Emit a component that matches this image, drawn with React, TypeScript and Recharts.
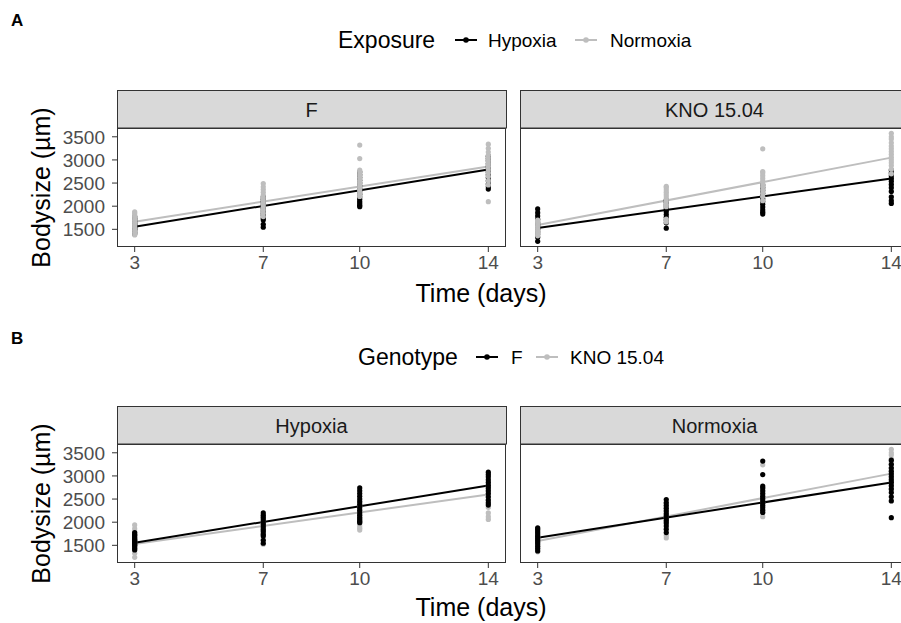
import React from "react";
import { ComposedChart, Scatter, Line, XAxis, YAxis } from "recharts";

const FONT = "'Liberation Sans', Arial, Helvetica, sans-serif";

// Sampling days and tick labels
const DAYS = [3, 7, 10, 14];
const X_TICKS = [3, 7, 10, 14];
const Y_TICKS = [1500, 2000, 2500, 3000, 3500];
const FIT_DAYS = [3, 14];

// Body size (µm) per day, one inner list per day in DAYS
const F_HYPOXIA = [
  [1400, 1430, 1470, 1500, 1520, 1540, 1560, 1580, 1600, 1620, 1650, 1680, 1710, 1740, 1775],
  [1545, 1610, 1700, 1740, 1800, 1850, 1900, 1950, 2000, 2050, 2100, 2150, 2200],
  [1990, 2020, 2060, 2100, 2150, 2200, 2260, 2320, 2380, 2440, 2500, 2560, 2620, 2680, 2740],
  [2370, 2420, 2480, 2550, 2620, 2680, 2740, 2800, 2860, 2920, 2980, 3030, 3080],
];
const F_NORMOXIA = [
  [1380, 1430, 1480, 1530, 1570, 1610, 1650, 1690, 1730, 1770, 1810, 1850, 1880],
  [1775, 1850, 1920, 1980, 2030, 2080, 2130, 2180, 2240, 2300, 2360, 2420, 2490],
  [2210, 2260, 2310, 2360, 2410, 2460, 2510, 2560, 2620, 2680, 2740, 2780, 3030, 3320],
  [2097, 2460, 2550, 2640, 2720, 2790, 2860, 2920, 2980, 3040, 3100, 3170, 3250, 3340],
];
const KNO_HYPOXIA = [
  [1240, 1330, 1400, 1450, 1500, 1530, 1560, 1600, 1650, 1720, 1790, 1860, 1940],
  [1525, 1640, 1700, 1760, 1820, 1880, 1930, 1980, 2030, 2080, 2130],
  [1830, 1870, 1920, 1980, 2040, 2100, 2160, 2220, 2280, 2340, 2400, 2460],
  [2060, 2120, 2200, 2320, 2400, 2470, 2540, 2600, 2660, 2720, 2780],
];
const KNO_NORMOXIA = [
  [1360, 1400, 1440, 1480, 1520, 1560, 1600, 1640, 1680, 1700],
  [1660, 1720, 1990, 2040, 2100, 2150, 2200, 2250, 2300, 2350, 2400, 2430],
  [2120, 2210, 2280, 2350, 2420, 2480, 2540, 2600, 2660, 2720, 2750, 3240],
  [2700, 2800, 2880, 2940, 3000, 3060, 3120, 3180, 3240, 3300, 3370, 3450, 3500, 3575],
];

// Fitted regression values at FIT_DAYS
const F_HYPOXIA_FIT = [1555, 2795];
const F_NORMOXIA_FIT = [1665, 2860];
const KNO_HYPOXIA_FIT = [1530, 2600];
const KNO_NORMOXIA_FIT = [1593, 3050];

const BLACK = "#000000";
const GREY = "#BEBEBE";

type Series = { name: string; color: string; values: number[][]; fit: number[] };

const toPoints = (groups: number[][]) =>
  groups.flatMap((vals, i) => vals.map((v) => ({ day: DAYS[i], size: v })));
const toFit = (vals: number[]) => FIT_DAYS.map((d, i) => ({ day: d, size: vals[i] }));

const PLOT_W = 389;
const Y_AXIS_W = 117;

function Panel({ left, top, plotH, showY, series }: { left: number; top: number; plotH: number; showY: boolean; series: Series[] }) {
  const width = (showY ? Y_AXIS_W : 0) + PLOT_W + 4;
  return (
    <div style={{ position: "absolute", left, top }}>
      <ComposedChart width={width} height={plotH + 40} margin={{ top: 0, right: 4, bottom: 0, left: 0 }}>
        <XAxis
          type="number"
          dataKey="day"
          domain={[2.45, 14.55]}
          ticks={X_TICKS}
          interval={0}
          allowDataOverflow
          axisLine={false}
          tickLine={{ stroke: "#333333", strokeWidth: 1 }}
          tickSize={5}
          tickMargin={4}
          height={40}
          tick={{ fill: "#4D4D4D", fontSize: 19, fontFamily: FONT }}
        />
        <YAxis
          type="number"
          dataKey="size"
          domain={[1118, 3690]}
          ticks={Y_TICKS}
          interval={0}
          allowDataOverflow
          hide={!showY}
          width={Y_AXIS_W}
          axisLine={false}
          tickLine={{ stroke: "#333333", strokeWidth: 1 }}
          tickSize={5}
          tickMargin={7}
          tick={{ fill: "#4D4D4D", fontSize: 19, fontFamily: FONT }}
        />
        {series.map((s) => (
          <Scatter
            key={"p" + s.name}
            name={s.name}
            data={toPoints(s.values)}
            isAnimationActive={false}
            shape={(p: any) => <circle cx={p.cx} cy={p.cy} r={2.6} fill={s.color} />}
          />
        ))}
        {series.map((s) => (
          <Line
            key={"l" + s.name}
            data={toFit(s.fit)}
            dataKey="size"
            type="linear"
            stroke={s.color}
            strokeWidth={2}
            dot={false}
            isAnimationActive={false}
          />
        ))}
      </ComposedChart>
    </div>
  );
}

const ROW_A_TOP = 128;
const ROW_B_TOP = 444;
const PLOT_H = 119;

function Strip({ x, y, label }: { x: number; y: number; label: string }) {
  return (
    <g>
      <rect x={x + 0.5} y={y + 0.5} width={PLOT_W} height={37.5} fill="#D9D9D9" stroke="#333333" strokeWidth={1} />
      <text x={x + PLOT_W / 2} y={y + 26.5} textAnchor="middle" fontSize={20} fill="#1A1A1A" fontFamily={FONT}>
        {label}
      </text>
    </g>
  );
}

function LegendKey({ x, y, color }: { x: number; y: number; color: string }) {
  return (
    <g>
      <line x1={x} y1={y} x2={x + 22} y2={y} stroke={color} strokeWidth={2} />
      <circle cx={x + 11} cy={y} r={2.8} fill={color} />
    </g>
  );
}

export default function App() {
  const rowA = [
    { left: 0, showY: true, label: "F", series: [
      { name: "Hypoxia", color: BLACK, values: F_HYPOXIA, fit: F_HYPOXIA_FIT },
      { name: "Normoxia", color: GREY, values: F_NORMOXIA, fit: F_NORMOXIA_FIT },
    ] },
    { left: 520, showY: false, label: "KNO 15.04", series: [
      { name: "Hypoxia", color: BLACK, values: KNO_HYPOXIA, fit: KNO_HYPOXIA_FIT },
      { name: "Normoxia", color: GREY, values: KNO_NORMOXIA, fit: KNO_NORMOXIA_FIT },
    ] },
  ];
  const rowB = [
    { left: 0, showY: true, label: "Hypoxia", series: [
      { name: "KNO 15.04", color: GREY, values: KNO_HYPOXIA, fit: KNO_HYPOXIA_FIT },
      { name: "F", color: BLACK, values: F_HYPOXIA, fit: F_HYPOXIA_FIT },
    ] },
    { left: 520, showY: false, label: "Normoxia", series: [
      { name: "KNO 15.04", color: GREY, values: KNO_NORMOXIA, fit: KNO_NORMOXIA_FIT },
      { name: "F", color: BLACK, values: F_NORMOXIA, fit: F_NORMOXIA_FIT },
    ] },
  ];

  return (
    <div style={{ position: "absolute", left: 0, top: 0, width: 901, height: 623, overflow: "hidden", background: "#FFFFFF", fontFamily: FONT }}>
      {rowA.map((p) => (
        <Panel key={"A" + p.label} left={p.left} top={ROW_A_TOP} plotH={PLOT_H} showY={p.showY} series={p.series} />
      ))}
      {rowB.map((p) => (
        <Panel key={"B" + p.label} left={p.left} top={ROW_B_TOP} plotH={PLOT_H} showY={p.showY} series={p.series} />
      ))}
      <svg width={901} height={623} style={{ position: "absolute", left: 0, top: 0, pointerEvents: "none" }}>
        {/* panel borders */}
        {[117, 520].map((x) => (
          <g key={"b" + x}>
            <rect x={x + 0.5} y={ROW_A_TOP + 0.5} width={PLOT_W - 1} height={PLOT_H - 1} fill="none" stroke="#333333" strokeWidth={1} />
            <rect x={x + 0.5} y={ROW_B_TOP + 0.5} width={PLOT_W - 1} height={PLOT_H - 1} fill="none" stroke="#333333" strokeWidth={1} />
          </g>
        ))}
        {/* strips */}
        <Strip x={117} y={90} label={rowA[0].label} />
        <Strip x={520} y={90} label={rowA[1].label} />
        <Strip x={117} y={406} label={rowB[0].label} />
        <Strip x={520} y={406} label={rowB[1].label} />

        {/* tags */}
        <text x={11} y={26} fontSize={17} fontWeight="bold" fontFamily={FONT} fill="#000">A</text>
        <text x={11} y={344} fontSize={17} fontWeight="bold" fontFamily={FONT} fill="#000">B</text>

        {/* legend A */}
        <text x={338} y={48} fontSize={23} fontFamily={FONT} fill="#000">Exposure</text>
        <LegendKey x={455} y={40} color={BLACK} />
        <text x={488} y={47} fontSize={19} fontFamily={FONT} fill="#000">Hypoxia</text>
        <LegendKey x={575} y={40} color={GREY} />
        <text x={610} y={47} fontSize={19} fontFamily={FONT} fill="#000">Normoxia</text>

        {/* legend B */}
        <text x={358} y={365} fontSize={23} fontFamily={FONT} fill="#000">Genotype</text>
        <LegendKey x={476} y={357} color={BLACK} />
        <text x={511} y={364} fontSize={19} fontFamily={FONT} fill="#000">F</text>
        <LegendKey x={536} y={357} color={GREY} />
        <text x={570} y={364} fontSize={19} fontFamily={FONT} fill="#000">KNO 15.04</text>

        {/* axis titles */}
        <text transform="translate(50,187.5) rotate(-90)" textAnchor="middle" fontSize={25} fontFamily={FONT} fill="#000">Bodysize (µm)</text>
        <text transform="translate(50,503.5) rotate(-90)" textAnchor="middle" fontSize={25} fontFamily={FONT} fill="#000">Bodysize (µm)</text>
        <text x={481} y={302} textAnchor="middle" fontSize={25} fontFamily={FONT} fill="#000">Time (days)</text>
        <text x={481} y={616} textAnchor="middle" fontSize={25} fontFamily={FONT} fill="#000">Time (days)</text>
      </svg>
    </div>
  );
}
